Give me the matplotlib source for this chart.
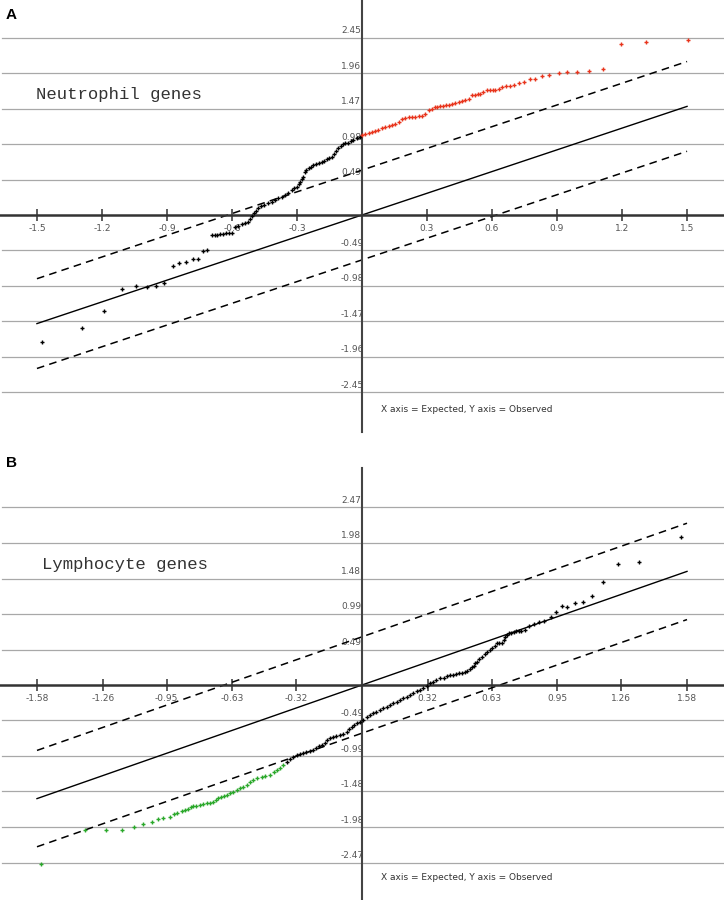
import matplotlib
matplotlib.use("Agg")
import matplotlib.pyplot as plt

plt.rcParams["lines.scale_dashes"] = False

W, H = 724, 900

# ---- panel A: Neutrophil genes ----
a_xticks = [-1.5, -1.2, -0.9, -0.6, -0.3, 0.3, 0.6, 0.9, 1.2, 1.5]
a_xlabels = ["-1.5", "-1.2", "-0.9", "-0.6", "-0.3", "0.3", "0.6", "0.9", "1.2", "1.5"]
a_yticks = [2.45, 1.96, 1.47, 0.98, 0.49, -0.49, -0.98, -1.47, -1.96, -2.45]
a_ylabels = ["2.45", "1.96", "1.47", "0.98", "0.49", "-0.49", "-0.98", "-1.47", "-1.96", "-2.45"]
a_band = 0.62

a_black_x = [-1.478, -1.293, -1.189, -1.106, -1.044, -0.994, -0.951, -0.912, -0.874, -0.843,
             -0.812, -0.781, -0.755, -0.735, -0.714, -0.694, -0.680, -0.667, -0.653, -0.640,
             -0.627, -0.614, -0.601, -0.585, -0.570, -0.555, -0.540, -0.527, -0.518, -0.509,
             -0.500, -0.490, -0.478, -0.465, -0.450, -0.432, -0.415, -0.400, -0.386, -0.370,
             -0.355, -0.340, -0.324, -0.312, -0.301, -0.293, -0.286, -0.278, -0.271, -0.265,
             -0.258, -0.245, -0.235, -0.225, -0.213, -0.200, -0.186, -0.175, -0.163, -0.152,
             -0.140, -0.130, -0.120, -0.109, -0.098, -0.088, -0.078, -0.066, -0.053, -0.040,
             -0.025, -0.009]
a_black_y = [-1.75, -1.556, -1.326, -1.022, -0.98, -0.99, -0.98, -0.944, -0.70, -0.668,
             -0.645, -0.612, -0.612, -0.497, -0.483, -0.28, -0.275, -0.27, -0.265, -0.26,
             -0.255, -0.25, -0.245, -0.17, -0.15, -0.13, -0.115, -0.09, -0.05, -0.01,
             0.03, 0.06, 0.092, 0.12, 0.14, 0.161, 0.18, 0.205, 0.23, 0.25,
             0.276, 0.31, 0.345, 0.37, 0.391, 0.425, 0.46, 0.495, 0.529, 0.60,
             0.625, 0.65, 0.665, 0.69, 0.70, 0.715, 0.736, 0.75, 0.77, 0.785,
             0.805, 0.84, 0.88, 0.921, 0.955, 0.975, 0.99, 1.0, 1.02, 1.036,
             1.06, 1.081]

a_red_x = [0.0, 0.015, 0.030, 0.046, 0.060, 0.076, 0.092, 0.108, 0.123, 0.139,
           0.154, 0.170, 0.185, 0.200, 0.215, 0.231, 0.246, 0.262, 0.277, 0.292,
           0.308, 0.322, 0.335, 0.346, 0.360, 0.375, 0.388, 0.400, 0.415, 0.430,
           0.446, 0.460, 0.476, 0.492, 0.508, 0.520, 0.533, 0.546, 0.560, 0.577,
           0.590, 0.603, 0.615, 0.630, 0.646, 0.665, 0.684, 0.703, 0.723, 0.746,
           0.777, 0.800, 0.831, 0.864, 0.908, 0.946, 0.992, 1.049, 1.111, 1.197,
           1.312, 1.504]
a_red_y = [1.105, 1.12, 1.135, 1.15, 1.165, 1.18, 1.197, 1.215, 1.235, 1.245,
           1.257, 1.29, 1.32, 1.34, 1.35, 1.357, 1.36, 1.365, 1.367, 1.40,
           1.45, 1.47, 1.49, 1.496, 1.505, 1.51, 1.515, 1.52, 1.535, 1.55,
           1.565, 1.58, 1.59, 1.60, 1.657, 1.66, 1.665, 1.671, 1.70, 1.727,
           1.727, 1.727, 1.727, 1.745, 1.764, 1.775, 1.782, 1.80, 1.819, 1.841,
           1.874, 1.874, 1.924, 1.938, 1.965, 1.971, 1.98, 1.989, 2.012, 2.357,
           2.394, 2.417]

# ---- panel B: Lymphocyte genes ----
b_xticks = [-1.58, -1.26, -0.95, -0.63, -0.32, 0.32, 0.63, 0.95, 1.26, 1.58]
b_xlabels = ["-1.58", "-1.26", "-0.95", "-0.63", "-0.32", "0.32", "0.63", "0.95", "1.26", "1.58"]
b_yticks = [2.47, 1.98, 1.48, 0.99, 0.49, -0.49, -0.99, -1.48, -1.98, -2.47]
b_ylabels = ["2.47", "1.98", "1.48", "0.99", "0.49", "-0.49", "-0.99", "-1.48", "-1.98", "-2.47"]
b_band = 0.67

b_black_x = [-0.366, -0.350, -0.334, -0.318, -0.300, -0.285, -0.270, -0.253, -0.237, -0.225,
             -0.210, -0.196, -0.180, -0.168, -0.156, -0.140, -0.125, -0.107, -0.090, -0.074,
             -0.062, -0.050, -0.038, -0.026, -0.010, 0.005, 0.023, 0.040, 0.055, 0.070,
             0.087, 0.104, 0.120, 0.136, 0.152, 0.168, 0.184, 0.200, 0.217, 0.233,
             0.250, 0.265, 0.282, 0.298, 0.315, 0.331, 0.345, 0.362, 0.379, 0.397,
             0.413, 0.428, 0.440, 0.455, 0.470, 0.486, 0.500, 0.512, 0.525, 0.535,
             0.543, 0.551, 0.559, 0.570, 0.583, 0.596, 0.608, 0.620, 0.632, 0.645,
             0.656, 0.668, 0.680, 0.688, 0.697, 0.705, 0.713, 0.725, 0.737, 0.750,
             0.762, 0.775, 0.790, 0.810, 0.835, 0.859, 0.883, 0.920, 0.943, 0.972,
             0.997, 1.034, 1.073, 1.118, 1.172, 1.243, 1.345, 1.552]
b_black_y = [-1.067, -1.03, -0.997, -0.975, -0.96, -0.95, -0.93, -0.915, -0.904, -0.88,
             -0.85, -0.834, -0.80, -0.765, -0.742, -0.725, -0.715, -0.695, -0.675, -0.65,
             -0.61, -0.58, -0.555, -0.533, -0.51, -0.48, -0.44, -0.415, -0.394, -0.37,
             -0.35, -0.324, -0.30, -0.278, -0.255, -0.232, -0.208, -0.185, -0.16, -0.138,
             -0.115, -0.09, -0.07, -0.046, -0.01, 0.024, 0.045, 0.07, 0.093, 0.10,
             0.12, 0.139, 0.145, 0.155, 0.165, 0.171, 0.185, 0.20, 0.22, 0.245,
             0.27, 0.30, 0.324, 0.36, 0.394, 0.43, 0.463, 0.49, 0.51, 0.545,
             0.58, 0.585, 0.588, 0.63, 0.672, 0.70, 0.72, 0.73, 0.74, 0.745,
             0.75, 0.755, 0.76, 0.82, 0.848, 0.88, 0.894, 0.95, 1.02, 1.099,
             1.089, 1.136, 1.159, 1.238, 1.432, 1.678, 1.715, 2.063]

b_green_x = [-1.561, -1.347, -1.245, -1.165, -1.108, -1.063, -1.022, -0.990, -0.966, -0.933,
             -0.915, -0.900, -0.877, -0.860, -0.844, -0.830, -0.820, -0.805, -0.788, -0.772,
             -0.755, -0.740, -0.723, -0.710, -0.698, -0.685, -0.672, -0.658, -0.642, -0.626,
             -0.610, -0.593, -0.577, -0.561, -0.545, -0.529, -0.510, -0.488, -0.470, -0.447,
             -0.430, -0.415, -0.400, -0.383]
b_green_y = [-2.494, -2.017, -2.017, -2.017, -1.979, -1.937, -1.909, -1.864, -1.854, -1.831,
             -1.80, -1.776, -1.748, -1.74, -1.729, -1.70, -1.683, -1.678, -1.669, -1.66,
             -1.646, -1.635, -1.623, -1.60, -1.576, -1.555, -1.54, -1.53, -1.505, -1.484,
             -1.46, -1.437, -1.415, -1.391, -1.355, -1.321, -1.30, -1.275, -1.265, -1.252,
             -1.215, -1.182, -1.15, -1.113]

GRID = "#a8a8a8"
AXIS = "#333333"
TXT = "#555555"
RED = "#e8341c"
GREEN = "#2aa82a"


def draw_panel(ax, xticks, xlabels, yticks, ylabels, band, title, series, x_unit, y_unit, x_lim, y_lim):
    ax.set_xlim(*x_lim)
    ax.set_ylim(*y_lim)
    for s in ["top", "right"]:
        ax.spines[s].set_visible(False)
    ax.spines["left"].set_position("zero")
    ax.spines["bottom"].set_position("zero")
    ax.spines["left"].set_color("#444444")
    ax.spines["left"].set_linewidth(1.5)
    ax.spines["bottom"].set_color(AXIS)
    ax.spines["bottom"].set_linewidth(1.8)
    ax.spines["left"].set_zorder(4)
    ax.spines["bottom"].set_zorder(4)
    ax.patch.set_visible(False)

    ax.set_yticks([])
    ax.set_xticks(xticks, xlabels)
    ax.tick_params(axis="x", direction="inout", length=8, width=1.1, color=AXIS,
                   labelsize=6.5, labelcolor=TXT, pad=2.5)

    for v, lab in zip(yticks, ylabels):
        ax.axhline(v, xmin=0.003, xmax=1, color=GRID, lw=0.9, zorder=1)
        ax.annotate(lab, xy=(0, v), xytext=(-21, 7), textcoords="offset pixels",
                    ha="left", va="center", fontsize=6.5, color=TXT, zorder=2)

    lim = xticks[-1]
    ax.plot([-lim, lim], [-lim, lim], color="black", lw=1.0, zorder=3)
    for off in (band, -band):
        ax.plot([-lim, lim], [-lim + off, lim + off], color="black", lw=1.1,
                linestyle=(0, (5.5, 3.8)), zorder=3)

    for xs, ys, c in series:
        ax.plot(xs, ys, linestyle="none", marker="+", markersize=2.8, mew=1.0,
                color=c, zorder=5)

    ax.text(x_unit, y_unit, title, transform=ax.transAxes, fontsize=12.4,
            family="Liberation Mono", color="#333333", ha="left", va="center")


fig = plt.figure(figsize=(W / 100, H / 100), dpi=100)

# panel A axes: pixel rows 0..432, axis origin at (362, 215)
axA = fig.add_axes([0, 1 - 432 / H, 1, 432 / H])
draw_panel(axA, a_xticks, a_xlabels, a_yticks, a_ylabels, a_band, "Neutrophil genes",
           [(a_black_x, a_black_y, "black"), (a_red_x, a_red_y, RED)],
           36 / W, (432 - 95) / 432,
           (-362 / 216.7, 362 / 216.7), (-(432 - 215) / 72.4, 215 / 72.4))
axA.text(381 / W, (432 - 409) / 432, "X axis = Expected, Y axis = Observed",
         transform=axA.transAxes, fontsize=6.5, color="#333333", ha="left", va="center")

# panel B axes: pixel rows 468..900, axis origin at (362, 685)
axB = fig.add_axes([0, 0, 1, 432 / H])
draw_panel(axB, b_xticks, b_xlabels, b_yticks, b_ylabels, b_band, "Lymphocyte genes",
           [(b_black_x, b_black_y, "black"), (b_green_x, b_green_y, GREEN)],
           42 / W, (900 - 564) / 432,
           (-362 / 205.7, 362 / 205.7), (-(900 - 685) / 71.9, (685 - 468) / 71.9))
axB.text(381 / W, (900 - 878) / 432, "X axis = Expected, Y axis = Observed",
         transform=axB.transAxes, fontsize=6.5, color="#333333", ha="left", va="center")

fig.text(6 / W, 1 - 15 / H, "A", fontsize=11, fontweight="bold", family="Liberation Sans",
         ha="left", va="center")
fig.text(6 / W, 1 - 463 / H, "B", fontsize=11, fontweight="bold", family="Liberation Sans",
         ha="left", va="center")

fig.savefig("out.png", dpi=100)
